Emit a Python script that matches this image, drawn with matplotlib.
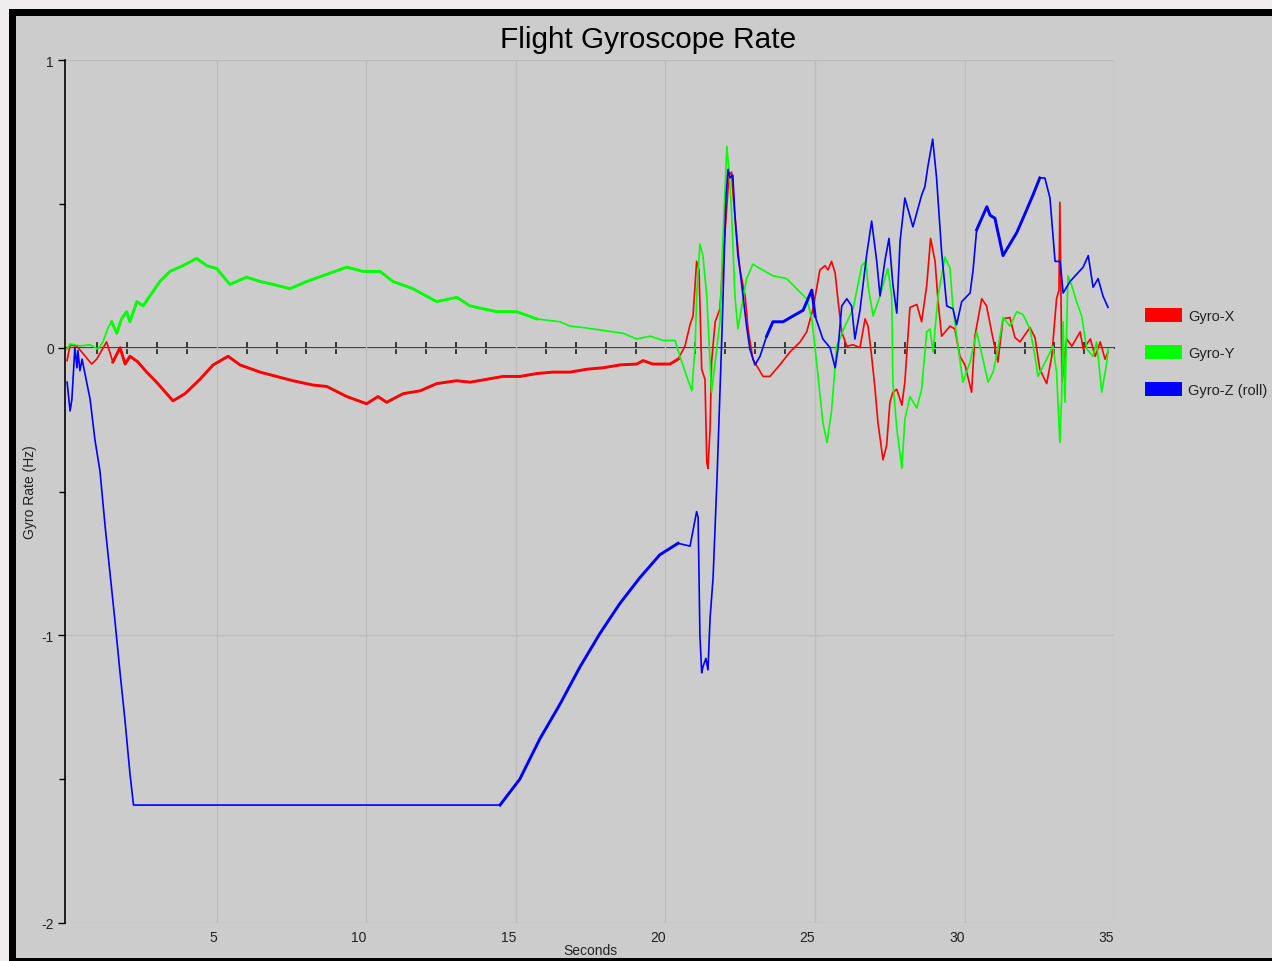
import numpy as np
import matplotlib.pyplot as plt
from matplotlib.patches import Rectangle, Patch

plt.rcParams['font.family'] = ['Liberation Sans', 'DejaVu Sans']
plt.rcParams['axes.unicode_minus'] = False

# ---- data (seconds, Hz) ----
gx_t = [0.0, 0.1, 0.32, 0.49, 0.82, 0.99, 1.32, 1.53, 1.77, 1.94, 2.1, 2.37, 2.66, 2.99, 3.54, 3.94,
        4.44, 4.88, 5.38, 5.78, 6.45, 7.0, 7.55, 8.22, 8.68, 9.35, 10.01, 10.39, 10.68, 11.23, 11.8,
        12.35, 13.02, 13.47, 14.02, 14.57, 15.14, 15.69, 16.24, 16.81, 17.37, 17.91, 18.48, 19.04,
        19.25, 19.58, 20.15, 20.42, 20.65, 20.82, 20.92, 21.04, 21.12, 21.21, 21.32, 21.38, 21.42,
        21.49, 21.54, 21.66, 21.82, 21.92, 22.05, 22.12, 22.21, 22.26, 22.38, 22.49, 22.66, 22.76,
        22.92, 23.26, 23.49, 23.82, 24.16, 24.5, 24.72, 24.93, 25.16, 25.33, 25.43, 25.55, 25.67,
        25.77, 25.89, 26.06, 26.27, 26.5, 26.67, 26.77, 26.89, 27.0, 27.1, 27.27, 27.39, 27.5, 27.6,
        27.73, 27.9, 28.0, 28.17, 28.4, 28.56, 28.73, 28.86, 29.01, 29.11, 29.23, 29.51, 29.67,
        29.84, 30.01, 30.23, 30.34, 30.57, 30.73, 30.9, 31.11, 31.28, 31.51, 31.68, 31.85, 32.18,
        32.35, 32.51, 32.74, 32.91, 33.07, 33.15, 33.18, 33.22, 33.25, 33.41, 33.58, 33.86, 33.96,
        34.2, 34.36, 34.53, 34.69, 34.79]
gx_v = [-0.045, 0.01, 0.005, -0.015, -0.057, -0.04, 0.02, -0.05, 0.0, -0.057, -0.03, -0.05, -0.085,
        -0.12, -0.185, -0.16, -0.11, -0.06, -0.03, -0.06, -0.085, -0.10, -0.115, -0.13, -0.135,
        -0.17, -0.195, -0.17, -0.19, -0.16, -0.15, -0.125, -0.115, -0.12, -0.11, -0.10, -0.10,
        -0.09, -0.085, -0.085, -0.075, -0.07, -0.06, -0.057, -0.045, -0.057, -0.057, -0.04, 0.005,
        0.08, 0.11, 0.30, 0.27, -0.075, -0.11, -0.40, -0.42, -0.28, -0.05, 0.09, 0.135, 0.30, 0.49,
        0.60, 0.61, 0.53, 0.39, 0.27, 0.18, 0.065, -0.04, -0.10, -0.10, -0.06, -0.015, 0.02, 0.055,
        0.135, 0.27, 0.285, 0.27, 0.30, 0.26, 0.16, 0.055, 0.005, 0.01, 0.0, 0.10, 0.075, -0.03,
        -0.14, -0.26, -0.39, -0.34, -0.19, -0.155, -0.145, -0.20, -0.12, 0.14, 0.15, 0.09, 0.215,
        0.38, 0.30, 0.16, 0.04, 0.075, 0.065, -0.03, -0.06, -0.155, 0.04, 0.17, 0.145, 0.055, -0.05,
        0.10, 0.105, 0.035, 0.02, 0.07, 0.035, -0.075, -0.125, -0.03, 0.17, 0.20, 0.505, 0.17,
        -0.12, 0.03, 0.005, 0.055, -0.005, 0.03, -0.03, 0.02, -0.04, -0.015]

gy_t = [0.0, 0.1, 0.43, 0.77, 1.03, 1.2, 1.37, 1.49, 1.66, 1.82, 1.99, 2.1, 2.33, 2.54, 2.77, 3.1,
        3.44, 3.87, 4.33, 4.67, 5.0, 5.44, 6.0, 6.45, 6.88, 7.45, 8.01, 8.68, 9.35, 9.89, 10.46,
        10.89, 11.56, 12.35, 13.02, 13.47, 14.36, 15.03, 15.69, 16.47, 16.81, 17.24, 17.91, 18.58,
        19.04, 19.48, 19.92, 20.32, 20.48, 20.71, 20.88, 20.99, 21.05, 21.15, 21.25, 21.38, 21.49,
        21.54, 21.66, 21.82, 21.92, 22.05, 22.12, 22.21, 22.32, 22.42, 22.55, 22.71, 22.92, 23.16,
        23.59, 24.05, 24.38, 24.72, 24.89, 25.05, 25.26, 25.4, 25.55, 25.72, 26.0, 26.27, 26.56,
        26.7, 26.77, 26.94, 27.17, 27.33, 27.43, 27.56, 27.6, 27.73, 27.9, 28.0, 28.17, 28.4, 28.56,
        28.73, 28.84, 28.94, 29.11, 29.34, 29.51, 29.61, 29.78, 29.94, 30.18, 30.4, 30.61, 30.78,
        30.95, 31.11, 31.28, 31.51, 31.74, 31.95, 32.18, 32.35, 32.45, 32.74, 32.95, 33.07, 33.18,
        33.24, 33.29, 33.35, 33.45, 33.58, 33.74, 33.91, 34.08, 34.29, 34.41, 34.58, 34.75, 34.79]
gy_v = [-0.005, 0.013, 0.006, 0.01, -0.005, 0.02, 0.07, 0.09, 0.05, 0.10, 0.125, 0.09, 0.16, 0.145,
        0.18, 0.23, 0.265, 0.285, 0.31, 0.285, 0.275, 0.22, 0.245, 0.23, 0.22, 0.205, 0.23, 0.255,
        0.28, 0.265, 0.265, 0.23, 0.205, 0.16, 0.175, 0.145, 0.125, 0.125, 0.10, 0.09, 0.075, 0.07,
        0.06, 0.05, 0.03, 0.04, 0.025, 0.025, -0.03, -0.10, -0.15, 0.005, 0.20, 0.36, 0.32, 0.18,
        -0.05, -0.155, -0.05, 0.09, 0.38, 0.70, 0.62, 0.47, 0.18, 0.065, 0.145, 0.24, 0.29, 0.275,
        0.25, 0.24, 0.205, 0.17, 0.10, -0.05, -0.26, -0.33, -0.22, 0.005, 0.075, 0.135, 0.285, 0.30,
        0.215, 0.11, 0.18, 0.24, 0.275, 0.18, -0.12, -0.28, -0.42, -0.25, -0.17, -0.21, -0.145,
        0.055, 0.065, -0.015, 0.18, 0.315, 0.275, 0.135, 0.005, -0.12, -0.05, 0.055, -0.04, -0.12,
        -0.085, -0.005, 0.105, 0.075, 0.125, 0.115, 0.065, -0.03, -0.10, -0.04, 0.005, -0.085,
        -0.33, -0.17, 0.09, -0.19, 0.25, 0.215, 0.16, 0.11, -0.005, -0.03, 0.02, -0.155, -0.05,
        -0.005]

gz_t = [0.0, 0.1, 0.16, 0.26, 0.33, 0.36, 0.43, 0.5, 0.77, 0.93, 1.1, 1.27, 1.43, 1.6, 1.77, 1.93,
        2.1, 2.22, 14.47, 15.13, 15.8, 16.47, 17.14, 17.8, 18.47, 19.14, 19.81, 20.42, 20.82, 21.04,
        21.09, 21.12, 21.15, 21.21, 21.25, 21.35, 21.42, 21.49, 21.59, 21.72, 21.89, 22.02, 22.09,
        22.16, 22.25, 22.32, 22.42, 22.49, 22.59, 22.71, 22.82, 22.99, 23.16, 23.38, 23.59, 23.93,
        24.26, 24.6, 24.89, 25.0, 25.26, 25.5, 25.67, 25.77, 25.89, 26.06, 26.22, 26.33, 26.5,
        26.72, 26.89, 27.06, 27.17, 27.33, 27.47, 27.6, 27.73, 27.84, 28.0, 28.27, 28.56, 28.67,
        28.77, 28.93, 29.06, 29.23, 29.4, 29.61, 29.73, 29.9, 30.18, 30.28, 30.4, 30.74, 30.85,
        31.01, 31.28, 31.74, 31.95, 32.28, 32.51, 32.68, 32.85, 33.02, 33.19, 33.29, 33.52, 33.96,
        34.13, 34.29, 34.46, 34.62, 34.79]
gz_v = [-0.12, -0.22, -0.18, 0.0, -0.07, -0.01, -0.08, -0.04, -0.18, -0.32, -0.43, -0.62, -0.78,
        -0.95, -1.13, -1.29, -1.48, -1.59, -1.59, -1.50, -1.36, -1.24, -1.11, -0.995, -0.89, -0.80,
        -0.72, -0.68, -0.69, -0.57, -0.59, -0.79, -1.0, -1.13, -1.11, -1.08, -1.12, -0.94, -0.80,
        -0.46, 0.06, 0.52, 0.62, 0.59, 0.60, 0.46, 0.32, 0.27, 0.18, 0.075, -0.005, -0.06, -0.03,
        0.04, 0.09, 0.09, 0.11, 0.13, 0.20, 0.11, 0.03, 0.0, -0.07, 0.0, 0.145, 0.17, 0.145, 0.03,
        0.13, 0.32, 0.44, 0.30, 0.18, 0.30, 0.38, 0.22, 0.12, 0.37, 0.52, 0.42, 0.53, 0.56, 0.63,
        0.725, 0.59, 0.33, 0.145, 0.135, 0.08, 0.16, 0.19, 0.27, 0.41, 0.49, 0.46, 0.45, 0.32, 0.40,
        0.45, 0.53, 0.59, 0.59, 0.52, 0.30, 0.30, 0.19, 0.23, 0.28, 0.32, 0.21, 0.24, 0.18, 0.14]

labels = ['Gyro-X', 'Gyro-Y', 'Gyro-Z (roll)']
colors = ['#ff0000', '#00ff00', '#0000ff']
series = [(gx_t, gx_v), (gy_t, gy_v), (gz_t, gz_v)]
# stretches where the trace is jittery (drawn heavier)
noisy = [[(1.4, 20.5)], [(1.4, 16.0)], [(14.4, 20.5), (23.3, 25.0), (30.3, 32.6)]]

W, H = 1272, 962
BG = '#cccccc'

fig = plt.figure(figsize=(W / 100, H / 100), dpi=100, facecolor=BG)
ax = fig.add_axes([65 / W, 38 / H, (1114.3 - 65) / W, 863 / H])
ax.set_facecolor(BG)
ax.set_xlim(-0.07, 35)
ax.set_ylim(-2, 1)

for (t, v), c, nz in zip(series, colors, noisy):
    t = np.array(t)
    v = np.array(v)
    ax.plot(t, v, color=c, lw=1.2, zorder=3)
    for a, b in nz:
        m = (t >= a) & (t <= b)
        ax.plot(t[m], v[m], color=c, lw=2.1, zorder=3)

ax.set_xticks(range(5, 36, 5))
ax.set_yticks([-2, -1, 0, 1])
ax.set_yticks([-1.5, -0.5, 0.5], minor=True)
ax.grid(True, which='major', color='#bdbdbd', lw=1)
ax.set_axisbelow(True)
for s in ['top', 'right', 'bottom']:
    ax.spines[s].set_visible(False)
ax.spines['left'].set_color('black')
ax.spines['left'].set_linewidth(1.2)
ax.tick_params(axis='x', length=0, pad=5, labelsize=10, labelcolor='#222222')
ax.tick_params(axis='y', which='major', length=5, width=1, pad=3, labelsize=10, labelcolor='#222222')
ax.tick_params(axis='y', which='minor', length=4, width=1)
for lab in ax.get_xticklabels():
    lab.set_ha('right')

# zero axis with one-second ticks
zl = ax.secondary_xaxis(2 / 3)
zl.set_xticks([s for s in range(1, 35) if s % 5], labels=[])
zl.tick_params(direction='inout', length=8, width=1.1, color='#111111')
for s in ['top', 'bottom']:
    zl.spines[s].set_color('#111111')
    zl.spines[s].set_linewidth(1.3)

fig.text(648 / W, 1 - 40 / H, 'Flight Gyroscope Rate', ha='center', va='center', fontsize=21.4)
fig.text(30 / W, 1 - 492 / H, 'Gyro Rate (Hz)', rotation=90, ha='center', va='center',
         fontsize=10, color='#222222')
fig.text(590 / W, 1 - 958.5 / H, 'Seconds', ha='center', va='bottom', fontsize=10, color='#222222')

handles = [Patch(facecolor=c, edgecolor='none', label=l) for c, l in zip(colors, labels)]
fig.legend(handles=handles, loc='upper left', bbox_to_anchor=(1145 / W, 1 - 309 / H),
           frameon=False, fontsize=10.5, handlelength=2.55, handleheight=1.1,
           handletextpad=0.4, labelspacing=1.52, borderpad=0, borderaxespad=0,
           labelcolor='#222222')

# window frame around the chart panel
def px_rect(x0, y0, x1, y1, color):
    fig.add_artist(Rectangle((x0 / W, 1 - y1 / H), (x1 - x0) / W, (y1 - y0) / H,
                             transform=fig.transFigure, facecolor=color, edgecolor='none',
                             zorder=20))

px_rect(0, 0, 9, H, '#efeded')
px_rect(0, 0, W, 10, '#efeded')
px_rect(9, 10, 16, H, 'black')
px_rect(9, 10, W, 17, 'black')
px_rect(9, 959, W, H, 'black')

fig.savefig('out.png', dpi=100, facecolor=BG)
